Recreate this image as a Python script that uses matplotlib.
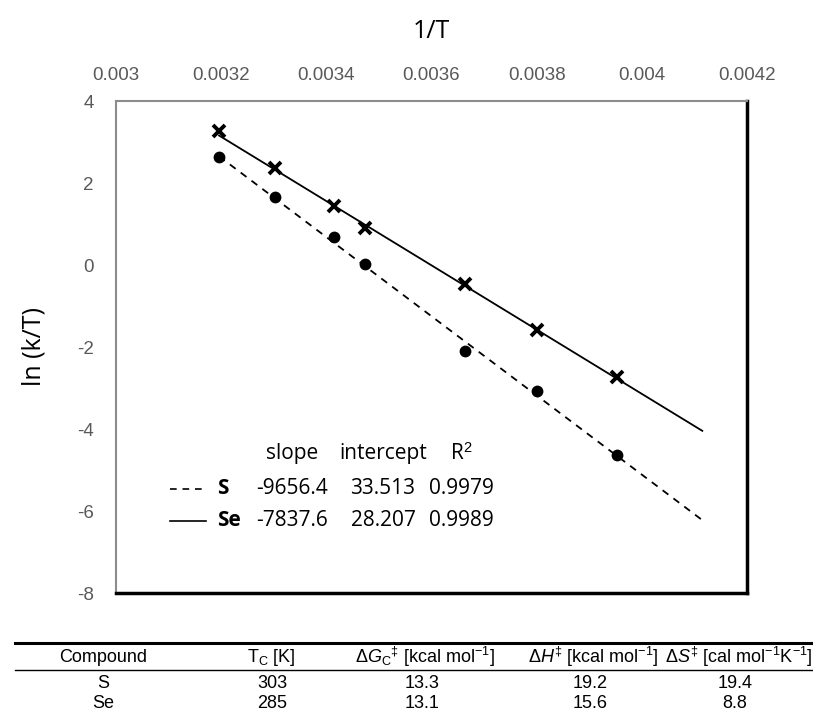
import numpy as np
import matplotlib.pyplot as plt
from matplotlib.ticker import FuncFormatter

plt.rcParams['axes.unicode_minus'] = False
plt.rcParams['mathtext.fontset'] = 'custom'
plt.rcParams['mathtext.rm'] = 'Liberation Sans'
plt.rcParams['mathtext.it'] = 'Liberation Sans:italic'

# Eyring plot data: 1/T [1/K] and ln(k/T)
inv_T = [0.003196, 0.003302, 0.003415, 0.003473, 0.003663, 0.003801, 0.003953]
ln_kT_S = [2.64, 1.67, 0.68, 0.02, -2.09, -3.07, -4.63]
ln_kT_Se = [3.28, 2.36, 1.45, 0.90, -0.46, -1.59, -2.72]

# linear fits, ln(k/T) = slope * (1/T) + intercept
fit_names = ['S', 'Se']
fit_slope = [-9656.4, -7837.6]
fit_intercept = [33.513, 28.207]
fit_r2 = [0.9979, 0.9989]
fit_x_end = 0.004115

# activation parameters table
table_header = ['Compound', r'T$_\mathrm{C}$ [K]',
                r'$\Delta G_\mathrm{C}{}^{\ddagger}$ [kcal mol$^{-1}$]',
                r'$\Delta H^{\ddagger}$ [kcal mol$^{-1}$]',
                r'$\Delta S^{\ddagger}$ [cal mol$^{-1}$K$^{-1}$]']
compounds = ['S', 'Se']
tc_K = ['303', '285']
dG_c = ['13.3', '13.1']
dH = ['19.2', '15.6']
dS = ['19.4', '8.8']

W, H = 813, 717
fig = plt.figure(figsize=(W / 100, H / 100), dpi=100)
fig.patch.set_facecolor('white')


def fx(px):
    return px / W


def fy(py):
    return 1 - py / H


ax = fig.add_axes([fx(116), fy(593), fx(747) - fx(116), fy(101) - fy(593)])

tick_font = dict(family='Liberation Sans', size=13.5, color='#595959')
text_font = 'Open Sans'

styles = {'S': dict(ls=(0, (4, 3.5)), marker='o', ms=8.5, mew=0),
          'Se': dict(ls='-', marker='x', ms=8, mew=2.8)}
series = {'S': ln_kT_S, 'Se': ln_kT_Se}

for name, m, b in zip(fit_names, fit_slope, fit_intercept):
    xs = np.array([min(inv_T), fit_x_end])
    ax.plot(xs, m * xs + b, color='black', lw=1.3, ls=styles[name]['ls'])
    ax.plot(inv_T, series[name], ls='none', color='black',
            marker=styles[name]['marker'], ms=styles[name]['ms'],
            mew=styles[name]['mew'], zorder=3)

ax.set_xlim(0.003, 0.0042)
ax.set_ylim(-8, 4)
ax.set_xticks(np.arange(0.003, 0.00421, 0.0002))
ax.set_yticks(np.arange(-8, 5, 2))
ax.xaxis.set_major_formatter(FuncFormatter(lambda v, p: '%g' % v))
ax.xaxis.tick_top()
ax.xaxis.set_label_position('top')
ax.tick_params(length=0, labelsize=tick_font['size'], labelcolor=tick_font['color'])
ax.tick_params(axis='x', pad=12)
ax.tick_params(axis='y', pad=16)
for lbl in ax.get_xticklabels() + ax.get_yticklabels():
    lbl.set_family(tick_font['family'])

ax.set_xlabel('1/T', family=text_font, fontsize=18, labelpad=21)
ax.set_ylabel('ln (k/T)', family=text_font, fontsize=18, labelpad=22)

for side in ['left', 'top']:
    ax.spines[side].set_color('#8c8c8c')
    ax.spines[side].set_linewidth(1.5)
for side in ['right', 'bottom']:
    ax.spines[side].set_color('black')
    ax.spines[side].set_linewidth(2.5)

# fit summary inside the plot
def ax_xy(px, py):
    return (px - 116) / 631, (593 - py) / 492


col_x = [292, 383, 461]
for cx, head in zip(col_x, ['slope', 'intercept', r'R$^2$']):
    ax.text(*ax_xy(cx, 454), head, transform=ax.transAxes, ha='center',
            va='center', family=text_font, fontsize=15)
row_y = [489, 521]
for name, m, b, r2, ry in zip(fit_names, fit_slope, fit_intercept, fit_r2, row_y):
    x0, y0 = ax_xy(170, ry)
    x1, _ = ax_xy(206, ry)
    ax.plot([x0, x1], [y0, y0], transform=ax.transAxes, color='black',
            lw=1.2, ls=styles[name]['ls'])
    ax.text(*ax_xy(217, ry), name, transform=ax.transAxes, ha='left',
            va='center', family=text_font, fontsize=15, weight='bold')
    for cx, val in zip(col_x, ['%.1f' % m, '%.3f' % b, '%.4f' % r2]):
        ax.text(*ax_xy(cx, ry), val, transform=ax.transAxes, ha='center',
                va='center', family=text_font, fontsize=15)

# table of activation parameters
tab_font = dict(family='Liberation Sans', size=13)
head_cx = [103, 271, 425, 593, 739]
val_cx = [103, 272, 422, 590, 735]
fig.add_artist(plt.Line2D([fx(15), fx(812)], [fy(643), fy(643)], color='black', lw=2.2))
fig.add_artist(plt.Line2D([fx(15), fx(812)], [fy(670), fy(670)], color='black', lw=1.0))
for cx, head in zip(head_cx, table_header):
    fig.text(fx(cx), fy(657), head, ha='center', va='center', **tab_font)
for row, ry in zip(zip(compounds, tc_K, dG_c, dH, dS), [684, 704]):
    for cx, val in zip(val_cx, row):
        fig.text(fx(cx), fy(ry), val, ha='center', va='center', **tab_font)

fig.savefig('out.png', dpi=100)
